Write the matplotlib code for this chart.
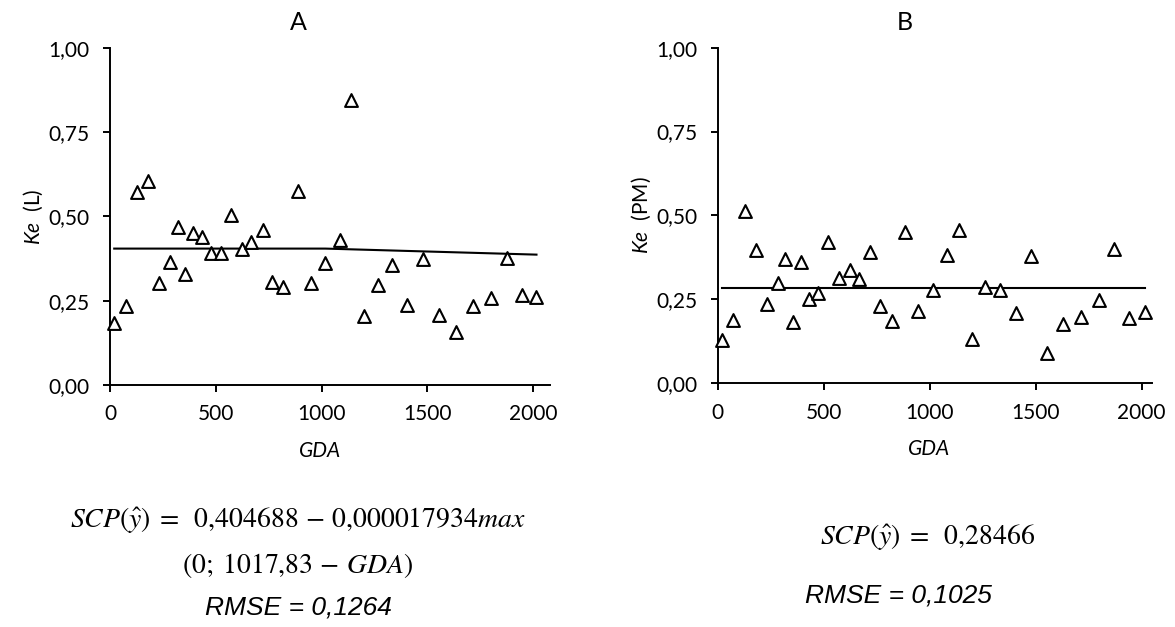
import matplotlib
matplotlib.use('Agg')
import matplotlib.pyplot as plt
from matplotlib.ticker import FuncFormatter

plt.rcParams['font.family'] = ['Lato', 'DejaVu Sans']
plt.rcParams['mathtext.fontset'] = 'custom'
plt.rcParams['mathtext.rm'] = 'Lato'
plt.rcParams['mathtext.it'] = 'Lato:italic'
plt.rcParams['mathtext.bf'] = 'Lato:bold'

# ── data ────────────────────────────────────────────────────────────────────
gda_a = [20, 74, 128, 181, 233, 283, 320, 354, 394, 433, 476, 524, 573, 625,
         668, 721, 767, 820, 887, 948, 1016, 1085, 1140, 1202, 1266, 1334,
         1406, 1479, 1554, 1635, 1717, 1802, 1876, 1946, 2016]
ke_l = [0.183, 0.233, 0.574, 0.604, 0.302, 0.366, 0.468, 0.330, 0.450, 0.439,
        0.393, 0.391, 0.505, 0.403, 0.425, 0.460, 0.306, 0.292, 0.577, 0.302,
        0.361, 0.431, 0.847, 0.205, 0.296, 0.355, 0.237, 0.375, 0.207, 0.157,
        0.233, 0.258, 0.377, 0.267, 0.262]

gda_b = [20, 72, 128, 180, 233, 283, 318, 354, 392, 430, 474, 521, 572, 624,
         665, 720, 765, 820, 883, 945, 1016, 1083, 1139, 1198, 1263, 1331,
         1405, 1477, 1553, 1631, 1715, 1797, 1871, 1943, 2014]
ke_pm = [0.129, 0.187, 0.512, 0.398, 0.237, 0.297, 0.370, 0.183, 0.360, 0.251,
         0.269, 0.422, 0.312, 0.338, 0.310, 0.392, 0.229, 0.184, 0.450, 0.215,
         0.277, 0.382, 0.456, 0.131, 0.285, 0.279, 0.209, 0.378, 0.090, 0.175,
         0.197, 0.249, 0.399, 0.194, 0.211]

# fitted models (breakpoints of the drawn lines)
fit_a_x = [20, 1017.83, 2016]
fit_a_y = [0.404688, 0.404688, 0.386779]
fit_b_x = [20, 2016]
fit_b_y = [0.28466, 0.28466]

yticks = [0.0, 0.25, 0.5, 0.75, 1.0]
xticks = [0, 500, 1000, 1500, 2000]

fig = plt.figure(figsize=(11.75, 6.27), dpi=100)
ax_a = fig.add_axes([0.0936, 0.386, 0.3745, 0.5375])
ax_b = fig.add_axes([0.611, 0.389, 0.369, 0.535])

comma = FuncFormatter(lambda v, p: f'{v:.2f}'.replace('.', ','))


def style(ax, xmax, title, ylab, tx, gx):
    ax.set_xlim(0, xmax)
    ax.set_ylim(0, 1.0)
    ax.set_xticks(xticks)
    ax.set_yticks(yticks)
    ax.yaxis.set_major_formatter(comma)
    for s in ('top', 'right'):
        ax.spines[s].set_visible(False)
    for s in ('left', 'bottom'):
        ax.spines[s].set_linewidth(1.4)
    ax.tick_params(direction='out', length=5, width=1.4, labelsize=15)
    ax.tick_params(axis='x', pad=9)
    ax.tick_params(axis='y', pad=10)
    ax.set_title(title, fontsize=18, pad=13, x=tx)
    ax.set_xlabel('GDA', fontsize=15, style='italic', labelpad=12, x=gx)
    ax.set_ylabel(ylab, fontsize=15, labelpad=2)


ax_a.scatter(gda_a, ke_l, marker='^', s=85, facecolors='white',
             edgecolors='black', linewidths=1.5, zorder=3, clip_on=False)
ax_a.plot(fit_a_x, fit_a_y, color='black', lw=1.5, zorder=2)
style(ax_a, 2080, 'A', r'$\mathit{Ke}$  (L)', 0.427, 0.477)

ax_b.scatter(gda_b, ke_pm, marker='^', s=85, facecolors='white',
             edgecolors='black', linewidths=1.5, zorder=3, clip_on=False)
ax_b.plot(fit_b_x, fit_b_y, color='black', lw=1.5, zorder=2)
style(ax_b, 2047, 'B', r'$\mathit{Ke}$  (PM)', 0.431, 0.488)

# ── equations ───────────────────────────────────────────────────────────────
eq = dict(ha='center', va='center', fontsize=20, math_fontfamily='stix')
rm = dict(ha='center', va='center', fontsize=19, style='italic',
          family='Liberation Sans')

fig.text(298 / 1175, 1 - 520 / 627,
         r'$SCP(\hat{y})\;=\;\;\mathrm{0{,}404688}\,-\,\mathrm{0{,}000017934}max$', **eq)
fig.text(298 / 1175, 1 - 566 / 627,
         r'$(\mathrm{0};\;\mathrm{1017{,}83}\,-\,GDA)$', **eq)
fig.text(298 / 1175, 1 - 607 / 627, 'RMSE = 0,1264', **rm)

fig.text(928 / 1175, 1 - 537 / 627, r'$SCP(\hat{y})\;=\;\;\mathrm{0{,}28466}$', **eq)
fig.text(898 / 1175, 1 - 596 / 627, 'RMSE = 0,1025', **rm)

fig.savefig('out.png', dpi=100, facecolor='white')
